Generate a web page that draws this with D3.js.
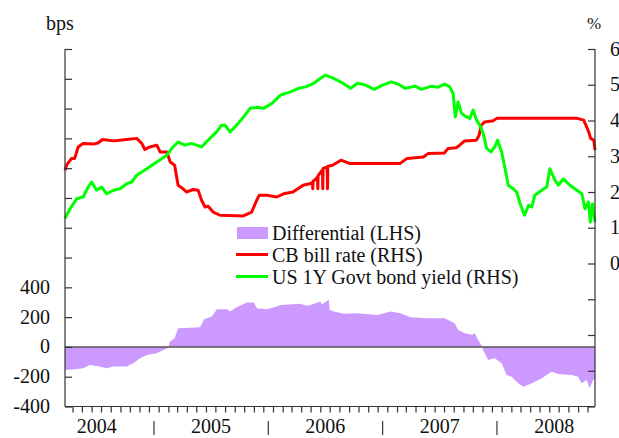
<!DOCTYPE html>
<html>
<head>
<meta charset="utf-8">
<script src="https://cdn.jsdelivr.net/npm/d3@7"></script>
<style>
  body { margin: 0; background: #fff; }
  svg { display: block; }
  svg text { font-family: "Liberation Serif", "DejaVu Serif", serif; fill: #111; }
</style>
</head>
<body>
<div id="chart"></div>
<script>
// Chart data

// CB bill rate, % (right axis)
const cbRate = [
  ["2004-03-23", 2.61], ["2004-03-28", 2.75], ["2004-04-13", 2.94], ["2004-04-23", 2.94],
  ["2004-05-04", 3.26], ["2004-05-20", 3.36], ["2004-06-21", 3.34], ["2004-07-06", 3.37],
  ["2004-07-21", 3.47], ["2004-08-25", 3.43], ["2004-10-06", 3.47], ["2004-11-07", 3.50],
  ["2004-11-23", 3.36], ["2004-12-03", 3.19], ["2004-12-19", 3.26], ["2005-01-10", 3.31],
  ["2005-01-21", 3.12], ["2005-02-11", 3.12], ["2005-02-22", 2.84], ["2005-03-08", 2.75],
  ["2005-03-19", 2.19], ["2005-04-04", 2.09], ["2005-04-15", 2.00], ["2005-05-06", 2.07],
  ["2005-05-22", 2.05], ["2005-06-02", 1.77], ["2005-06-13", 1.58], ["2005-06-23", 1.60],
  ["2005-07-09", 1.44], ["2005-07-31", 1.35], ["2005-10-13", 1.33], ["2005-11-09", 1.44],
  ["2005-11-25", 1.77], ["2005-12-03", 1.91], ["2005-12-27", 1.91], ["2006-01-28", 1.86],
  ["2006-02-19", 1.95], ["2006-03-21", 2.00], ["2006-04-22", 2.19], ["2006-05-13", 2.23],
  ["2006-05-22", 2.27], ["2006-05-23", 2.09], ["2006-05-24", 2.30], ["2006-06-02", 2.37],
  ["2006-06-07", 2.42], ["2006-06-08", 2.09], ["2006-06-09", 2.46], ["2006-06-23", 2.62],
  ["2006-06-24", 2.09], ["2006-06-25", 2.66], ["2006-07-08", 2.70], ["2006-07-09", 2.09],
  ["2006-07-10", 2.72], ["2006-07-25", 2.75], ["2006-08-21", 2.89], ["2006-09-17", 2.80],
  ["2007-02-26", 2.80], ["2007-03-20", 2.94], ["2007-05-11", 2.98], ["2007-05-27", 3.08],
  ["2007-07-17", 3.09], ["2007-07-29", 3.22], ["2007-08-24", 3.24], ["2007-09-04", 3.31],
  ["2007-09-20", 3.43], ["2007-10-27", 3.45], ["2007-11-05", 3.59], ["2007-11-12", 3.87],
  ["2007-11-23", 3.96], ["2007-12-20", 3.99], ["2007-12-31", 4.06], ["2008-09-13", 4.06],
  ["2008-10-04", 4.01], ["2008-10-20", 3.68], ["2008-10-26", 3.50], ["2008-11-05", 3.45],
  ["2008-11-09", 3.17]
];

// US 1Y Govt bond yield, % (right axis)
const usYield = [
  ["2004-03-23", 1.26], ["2004-04-08", 1.53], ["2004-04-29", 1.81], ["2004-05-20", 1.86],
  ["2004-06-05", 2.14], ["2004-06-16", 2.28], ["2004-07-02", 2.05], ["2004-07-18", 2.14],
  ["2004-08-03", 1.95], ["2004-08-25", 2.05], ["2004-09-15", 2.09], ["2004-10-06", 2.23],
  ["2004-10-22", 2.28], ["2004-11-07", 2.47], ["2004-12-09", 2.65], ["2005-01-10", 2.84],
  ["2005-02-11", 3.03], ["2005-03-03", 3.26], ["2005-03-19", 3.40], ["2005-04-09", 3.31],
  ["2005-05-01", 3.36], ["2005-05-17", 3.31], ["2005-06-02", 3.26], ["2005-06-23", 3.45],
  ["2005-07-20", 3.68], ["2005-08-05", 3.87], ["2005-08-16", 3.87], ["2005-09-01", 3.68],
  ["2005-09-22", 3.87], ["2005-10-14", 4.10], ["2005-11-04", 4.34], ["2005-11-26", 4.37],
  ["2005-12-17", 4.34], ["2006-01-13", 4.48], ["2006-02-09", 4.71], ["2006-03-13", 4.80],
  ["2006-04-08", 4.90], ["2006-04-30", 4.94], ["2006-05-26", 5.04], ["2006-06-17", 5.18],
  ["2006-07-03", 5.27], ["2006-07-29", 5.18], ["2006-08-26", 5.05], ["2006-09-21", 4.90],
  ["2006-10-13", 5.04], ["2006-11-08", 4.99], ["2006-12-05", 4.87], ["2007-01-01", 4.99],
  ["2007-01-28", 5.08], ["2007-02-19", 5.02], ["2007-03-13", 4.90], ["2007-04-14", 4.96],
  ["2007-05-05", 4.87], ["2007-06-06", 4.96], ["2007-06-27", 4.93], ["2007-07-18", 5.02],
  ["2007-08-03", 4.94], ["2007-08-14", 4.76], ["2007-08-21", 4.10], ["2007-08-30", 4.52],
  ["2007-09-10", 4.20], ["2007-09-26", 4.10], ["2007-10-06", 4.06], ["2007-10-17", 4.29],
  ["2007-10-28", 4.01], ["2007-11-07", 3.87], ["2007-11-18", 3.64], ["2007-11-29", 3.22],
  ["2007-12-13", 3.12], ["2007-12-25", 3.26], ["2008-01-03", 3.45], ["2008-01-16", 3.12],
  ["2008-01-26", 2.70], ["2008-02-06", 2.19], ["2008-02-22", 2.09], ["2008-03-04", 2.00],
  ["2008-03-15", 1.67], ["2008-03-29", 1.35], ["2008-04-11", 1.63], ["2008-04-21", 1.58],
  ["2008-05-01", 1.91], ["2008-05-23", 2.05], ["2008-06-08", 2.14], ["2008-06-18", 2.65],
  ["2008-07-04", 2.33], ["2008-07-15", 2.19], ["2008-07-31", 2.37], ["2008-08-21", 2.19],
  ["2008-09-12", 2.05], ["2008-09-28", 1.95], ["2008-10-08", 1.53], ["2008-10-19", 1.72],
  ["2008-10-25", 1.16], ["2008-11-01", 1.67], ["2008-11-09", 1.16]
];

// Differential, bps (left axis)
const differential = [
  ["2004-03-23", -155], ["2004-04-23", -150], ["2004-05-20", -143], ["2004-06-10", -121],
  ["2004-07-11", -132], ["2004-08-02", -143], ["2004-08-24", -132], ["2004-10-06", -132],
  ["2004-10-27", -110], ["2004-11-18", -76], ["2004-12-10", -54], ["2005-01-10", -43],
  ["2005-01-31", -20], ["2005-02-16", -5], ["2005-02-21", 36], ["2005-03-08", 58],
  ["2005-03-19", 126], ["2005-04-27", 128], ["2005-05-28", 132], ["2005-06-10", 186],
  ["2005-07-05", 204], ["2005-07-21", 253], ["2005-08-23", 253], ["2005-09-01", 237],
  ["2005-09-22", 267], ["2005-10-25", 298], ["2005-11-16", 298], ["2005-11-26", 260],
  ["2005-12-27", 253], ["2006-01-28", 271], ["2006-02-09", 282], ["2006-04-13", 289],
  ["2006-05-04", 276], ["2006-05-15", 282], ["2006-06-17", 305], ["2006-06-20", 285],
  ["2006-07-13", 316], ["2006-07-16", 250], ["2006-07-29", 237], ["2006-08-30", 222],
  ["2006-10-12", 226], ["2006-12-15", 215], ["2007-01-27", 237], ["2007-02-27", 226],
  ["2007-03-31", 200], ["2007-05-23", 193], ["2007-07-18", 193], ["2007-07-29", 181],
  ["2007-08-19", 159], ["2007-08-30", 114], ["2007-09-20", 92], ["2007-10-12", 81],
  ["2007-10-22", 92], ["2007-11-02", 47], ["2007-11-12", 13], ["2007-11-18", -20],
  ["2007-12-04", -87], ["2007-12-25", -76], ["2008-01-16", -110], ["2008-02-01", -188],
  ["2008-02-17", -200], ["2008-03-09", -244], ["2008-03-25", -267], ["2008-04-21", -244],
  ["2008-05-23", -210], ["2008-06-23", -166], ["2008-07-15", -181], ["2008-08-26", -188],
  ["2008-09-16", -200], ["2008-09-27", -244], ["2008-10-13", -222], ["2008-10-23", -278],
  ["2008-11-03", -222], ["2008-11-09", -215]
];

const leftTicks = [-400, -200, 0, 200, 400, 600, 800, 1000, 1200, 1400, 1600, 1800, 2000];
const leftLabels = [-400, -200, 0, 200, 400];
const rightTicks = [-4, -3, -2, -1, 0, 1, 2, 3, 4, 5, 6];
const rightLabels = [0, 1, 2, 3, 4, 5, 6];
const years = [2004, 2005, 2006, 2007, 2008];

const legendItems = [
  { label: "Differential (LHS)", type: "box", color: "#cc99ff" },
  { label: "CB bill rate (RHS)", type: "line", color: "#ff0000" },
  { label: "US 1Y Govt bond yield (RHS)", type: "line", color: "#00ff00" }
];

const width = 619;
const height = 438;
const plotLeft = 65, plotRight = 595, plotTop = 49, plotBottom = 406.5;
const axisColor = "#333";
const serif = "Liberation Serif, DejaVu Serif, serif";
const fontSize = 20;

const parse = d3.timeParse("%Y-%m-%d");
const toPoints = arr => arr.map(d => ({ date: parse(d[0]), v: d[1] }));

const x = d3.scaleTime()
  .domain([parse("2004-03-23"), parse("2008-11-09")])
  .range([plotLeft, plotRight]);
const yL = d3.scaleLinear().domain([-400, 2000]).range([plotBottom, plotTop]);
const yR = d3.scaleLinear().domain([-4, 6]).range([plotBottom, plotTop]);

const svg = d3.select("#chart").append("svg")
  .attr("width", width)
  .attr("height", height)
  .attr("font-family", serif);

// Differential bars (as a filled area)
const area = d3.area()
  .x(d => x(d.date))
  .y0(yL(0))
  .y1(d => yL(d.v));
svg.append("path")
  .datum(toPoints(differential))
  .attr("d", area)
  .attr("fill", "#cc99ff");

// Zero line
svg.append("line")
  .attr("x1", plotLeft).attr("x2", plotRight)
  .attr("y1", yL(0)).attr("y2", yL(0))
  .attr("stroke", "#555").attr("stroke-width", 1.5);

// Rate lines
const lineR = d3.line().x(d => x(d.date)).y(d => yR(d.v));
svg.append("path")
  .datum(toPoints(cbRate))
  .attr("d", lineR)
  .attr("fill", "none")
  .attr("stroke", "#ff0000")
  .attr("stroke-width", 3)
  .attr("stroke-linejoin", "round");
svg.append("path")
  .datum(toPoints(usYield))
  .attr("d", lineR)
  .attr("fill", "none")
  .attr("stroke", "#00ff00")
  .attr("stroke-width", 3)
  .attr("stroke-linejoin", "round");

// Left axis
const gL = svg.append("g").attr("transform", `translate(${plotLeft},0)`);
gL.call(d3.axisRight(yL).tickValues(leftTicks).tickSize(7).tickFormat(""));
gL.select(".domain").attr("d", `M0,${plotTop}V${plotBottom}`);
gL.selectAll("path, line").attr("stroke", axisColor).attr("stroke-width", 1.2);
svg.append("g").selectAll("text")
  .data(leftLabels)
  .join("text")
  .attr("x", 50)
  .attr("y", d => yL(d) + 6.5)
  .attr("text-anchor", "end")
  .attr("font-family", serif)
  .attr("font-size", fontSize)
  .text(d => d);

// Right axis
const gR = svg.append("g").attr("transform", `translate(${plotRight},0)`);
gR.call(d3.axisLeft(yR).tickValues(rightTicks).tickSize(7).tickFormat(""));
gR.select(".domain").attr("d", `M0,${plotTop}V${plotBottom}`);
gR.selectAll("path, line").attr("stroke", axisColor).attr("stroke-width", 1.2);
svg.append("g").selectAll("text")
  .data(rightLabels)
  .join("text")
  .attr("x", 610)
  .attr("y", d => yR(d) + 6.5)
  .attr("font-family", serif)
  .attr("font-size", fontSize)
  .text(d => d);

// Bottom axis with mid-month ticks
const monthTicks = d3.timeMonth.range(parse("2004-03-01"), parse("2008-12-01"))
  .map(d => d3.timeDay.offset(d, 15))
  .filter(d => d >= x.domain()[0] && d <= x.domain()[1]);
const gB = svg.append("g").attr("transform", `translate(0,${plotBottom})`);
gB.call(d3.axisBottom(x).tickValues(monthTicks).tickSize(6).tickFormat(""));
gB.select(".domain").attr("d", `M${plotLeft},0H${plotRight}`);
gB.selectAll("path, line").attr("stroke", axisColor).attr("stroke-width", 1.2);

// Year separators and labels
svg.append("g").selectAll("line")
  .data(years.slice(1))
  .join("line")
  .attr("x1", d => x(new Date(d, 0, 1)))
  .attr("x2", d => x(new Date(d, 0, 1)))
  .attr("y1", 421).attr("y2", 435)
  .attr("stroke", axisColor).attr("stroke-width", 1.2);
svg.append("g").selectAll("text")
  .data(years)
  .join("text")
  .attr("x", d => x(new Date(d, 6, 2)))
  .attr("y", 433)
  .attr("text-anchor", "middle")
  .attr("font-family", serif)
  .attr("font-size", fontSize)
  .text(d => d);

// Axis titles
svg.append("text").attr("x", 46).attr("y", 30)
  .attr("font-family", serif).attr("font-size", fontSize).text("bps");
svg.append("text").attr("x", 587).attr("y", 29)
  .attr("font-family", serif).attr("font-size", 17).text("%");

// Legend
const legend = svg.append("g").attr("transform", "translate(236,0)");
legendItems.forEach((item, i) => {
  const base = 239.5 + i * 22;
  if (item.type === "box") {
    legend.append("rect")
      .attr("x", 1).attr("y", base - 12.5)
      .attr("width", 31).attr("height", 12)
      .attr("fill", item.color);
  } else {
    legend.append("line")
      .attr("x1", 0).attr("x2", 32)
      .attr("y1", base - 7).attr("y2", base - 7)
      .attr("stroke", item.color).attr("stroke-width", 3);
  }
  legend.append("text")
    .attr("x", 36).attr("y", base)
    .attr("font-family", serif)
    .attr("font-size", fontSize)
    .text(item.label);
});
</script>
</body>
</html>
